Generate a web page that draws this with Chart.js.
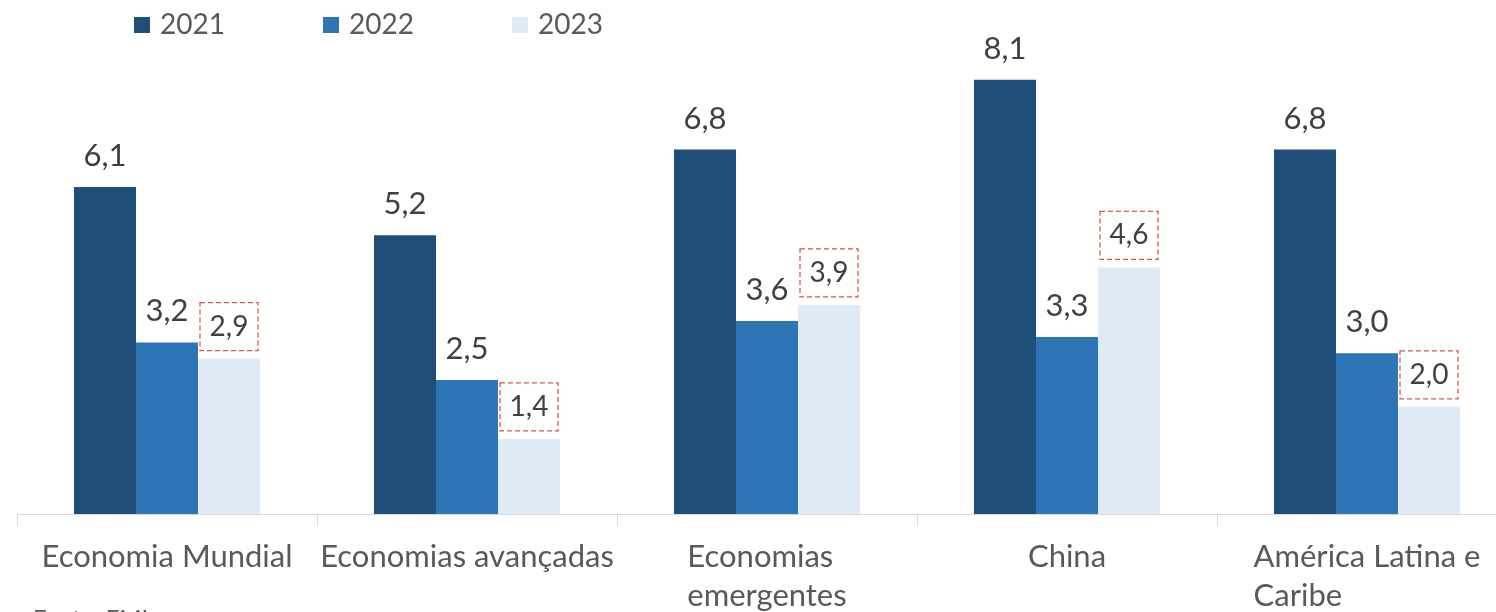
<!DOCTYPE html>
<html>
<head>
<meta charset="utf-8">
<script src="https://cdn.jsdelivr.net/npm/chart.js@4.4.0/dist/chart.umd.min.js"></script>
<style>
  html, body { margin: 0; padding: 0; background: #fff; overflow: hidden; }
  #wrap { position: relative; width: 1496px; height: 612px; overflow: hidden; }
  #myChart { display: block; }
  #fonte { position: absolute; left: 33px; top: 603px; font: 24px Lato, sans-serif; color: #595959; }
</style>
</head>
<body>
<div id="wrap">
  <canvas id="myChart" width="1520" height="612"></canvas>
  <div id="fonte">Fonte: FMI</div>
</div>
<script>
// data
const categories = [
  'Economia Mundial',
  'Economias avançadas',
  ['Economias', 'emergentes'],
  'China',
  ['América Latina e', 'Caribe']
];
const years = ['2021', '2022', '2023'];
const values2021 = [6.1, 5.2, 6.8, 8.1, 6.8];
const values2022 = [3.2, 2.5, 3.6, 3.3, 3.0];
const values2023 = [2.9, 1.4, 3.9, 4.6, 2.0];
const colors = ['#1F4E79', '#2E75B6', '#DEEBF7'];

const FONT = 'Lato, "Open Sans", sans-serif';

// value labels above the bars (last series gets a dashed red box)
const valueLabels = {
  id: 'valueLabels',
  afterDatasetsDraw(chart) {
    const ctx = chart.ctx;
    chart.data.datasets.forEach((ds, di) => {
      const meta = chart.getDatasetMeta(di);
      meta.data.forEach((bar, i) => {
        const txt = ds.data[i].toFixed(1).replace('.', ',');
        ctx.save();
        ctx.textAlign = 'center';
        ctx.textBaseline = 'middle';
        ctx.fillStyle = '#404040';
        if (di === 2) {
          const w = bar.width - 4, h = 48;
          const bottom = bar.y - 8;
          ctx.setLineDash([5, 3]);
          ctx.strokeStyle = '#d9534f';
          ctx.lineWidth = 1.3;
          ctx.strokeRect(bar.x - w / 2, bottom - h, w, h);
          ctx.font = '28px ' + FONT;
          ctx.fillText(txt, bar.x, bottom - h / 2);
        } else {
          ctx.font = '31px ' + FONT;
          ctx.fillText(txt, bar.x, bar.y - 31);
        }
        ctx.restore();
      });
    });
  }
};

// category labels, lines left-aligned inside a centred block
const catLabels = {
  id: 'catLabels',
  afterDraw(chart) {
    const ctx = chart.ctx;
    const xs = chart.scales.x;
    ctx.save();
    ctx.font = '31px ' + FONT;
    ctx.fillStyle = '#595959';
    ctx.textAlign = 'left';
    ctx.textBaseline = 'middle';
    chart.data.labels.forEach((lab, i) => {
      const lines = Array.isArray(lab) ? lab : [lab];
      const w = Math.max(...lines.map(l => ctx.measureText(l).width));
      const px = xs.getPixelForTick(i);
      lines.forEach((l, k) => {
        ctx.fillText(l, px - w / 2, chart.chartArea.bottom + 43 + k * 39);
      });
    });
    ctx.restore();
  }
};

// legend row at the top left
const topLegend = {
  id: 'topLegend',
  afterDraw(chart) {
    const ctx = chart.ctx;
    ctx.save();
    ctx.font = '28px ' + FONT;
    ctx.textBaseline = 'middle';
    chart.data.datasets.forEach((ds, di) => {
      const x = 134 + di * 189;
      ctx.fillStyle = ds.backgroundColor;
      ctx.fillRect(x, 17, 16, 16);
      ctx.fillStyle = '#595959';
      ctx.fillText(ds.label, x + 26, 25);
    });
    ctx.restore();
  }
};

const data = {
  labels: categories,
  datasets: [
    { label: years[0], data: values2021, backgroundColor: colors[0] },
    { label: years[1], data: values2022, backgroundColor: colors[1] },
    { label: years[2], data: values2023, backgroundColor: colors[2] }
  ]
};

const config = {
  type: 'bar',
  data: data,
  options: {
    responsive: false,
    animation: false,
    devicePixelRatio: 1,
    layout: { padding: { left: 17, right: 3, top: 31.6, bottom: 86 } },
    datasets: { bar: { categoryPercentage: 0.62, barPercentage: 1.0 } },
    plugins: { legend: { display: false }, tooltip: { enabled: false } },
    scales: {
      x: {
        grid: { offset: true, drawOnChartArea: false, drawTicks: true, tickLength: 12, color: '#d9d9d9' },
        border: { color: '#d9d9d9', width: 1 },
        ticks: { display: false }
      },
      y: { display: false, min: 0, max: 9 }
    }
  },
  plugins: [valueLabels, catLabels, topLegend]
};

let myChart = new Chart(document.getElementById('myChart').getContext('2d'), config);
</script>
</body>
</html>
